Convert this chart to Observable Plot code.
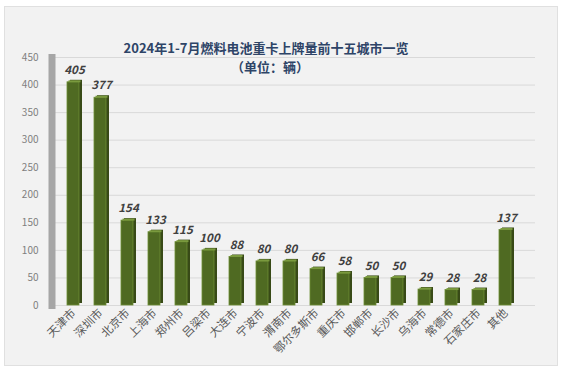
<!DOCTYPE html>
<html><head><meta charset="utf-8">
<script src="https://cdn.jsdelivr.net/npm/d3@7"></script>
<script src="https://cdn.jsdelivr.net/npm/@observablehq/plot@0.6"></script>
<style>
body{margin:0;background:#fff;}
#wrap{position:absolute;left:5px;top:7px;width:552px;height:358px;background:#f2f2f2;outline:1px solid #e0e0e0;}
svg{font-family:"Noto Sans CJK SC","Noto Sans",sans-serif;}
</style></head>
<body><div id="wrap"></div>
<script>
const cities = ["天津市","深圳市","北京市","上海市","郑州市","吕梁市","大连市","宁波市","渭南市","鄂尔多斯市","重庆市","邯郸市","长沙市","乌海市","常德市","石家庄市","其他"];
const counts = [405,377,154,133,115,100,88,80,80,66,58,50,50,29,28,28,137];
const yTicks = [0,50,100,150,200,250,300,350,400,450];
const title = "2024年1-7月燃料电池重卡上牌量前十五城市一览";
const subtitle = "（单位：辆）";

const data = cities.map((c,i)=>({city:c, value:counts[i]}));

const chart = Plot.plot({
  width: 552, height: 358,
  marginLeft: 39, marginRight: 22, marginTop: 50, marginBottom: 60,
  style: {background: "transparent", fontFamily: '"Noto Sans CJK SC","Noto Sans",sans-serif'},
  x: {domain: cities, padding: 0.55, axis: null},
  y: {domain: [0,450], ticks: yTicks, axis: null},
  marks: [
    Plot.ruleY(yTicks, {stroke: "#d9d9d9", strokeWidth: 1, insetLeft: 11}),
    Plot.frame({anchor: "left", stroke: "#a6a6a6", strokeWidth: 7, dx: 7.5}),
    Plot.text(yTicks, {y: d=>d, text: d=>String(d), frameAnchor: "left", textAnchor: "end", dx: -6, fill: "#7f7f7f", fontSize: 10}),
    // side face
    Plot.barY(data, {x: "city", y: "value", fill: "#384a17", dx: 3, dy: -2}),
    // front face
    Plot.barY(data, {x: "city", y: "value", fill: "#4f6a22", stroke: "#6e8f35", strokeWidth: 0.8}),
    // top face
    Plot.tickY(data, {x: "city", y: "value", stroke: "#7a9a3e", strokeWidth: 2, dx: 1.5, dy: -1}),
    Plot.text(data, {x: "city", y: "value", text: d=>String(d.value), dy: -12, dx: 1, fill: "#404040", fontSize: 11.5, fontWeight: "bold", fontStyle: "italic"}),
    Plot.text(data, {x: "city", text: "city", frameAnchor: "bottom", textAnchor: "end", rotate: -45, dy: 8, dx: 3, fill: "#595959", fontSize: 11.5}),
    Plot.text([title], {text: d=>d, frameAnchor: "top", dx: -24, dy: -14, fill: "#2e4467", fontSize: 13, fontWeight: "bold"}),
    Plot.text([subtitle], {text: d=>d, frameAnchor: "top", dx: -20, dy: 5, fill: "#2e4467", fontSize: 13, fontWeight: "bold"})
  ]
});
document.getElementById("wrap").appendChild(chart);
</script></body></html>
